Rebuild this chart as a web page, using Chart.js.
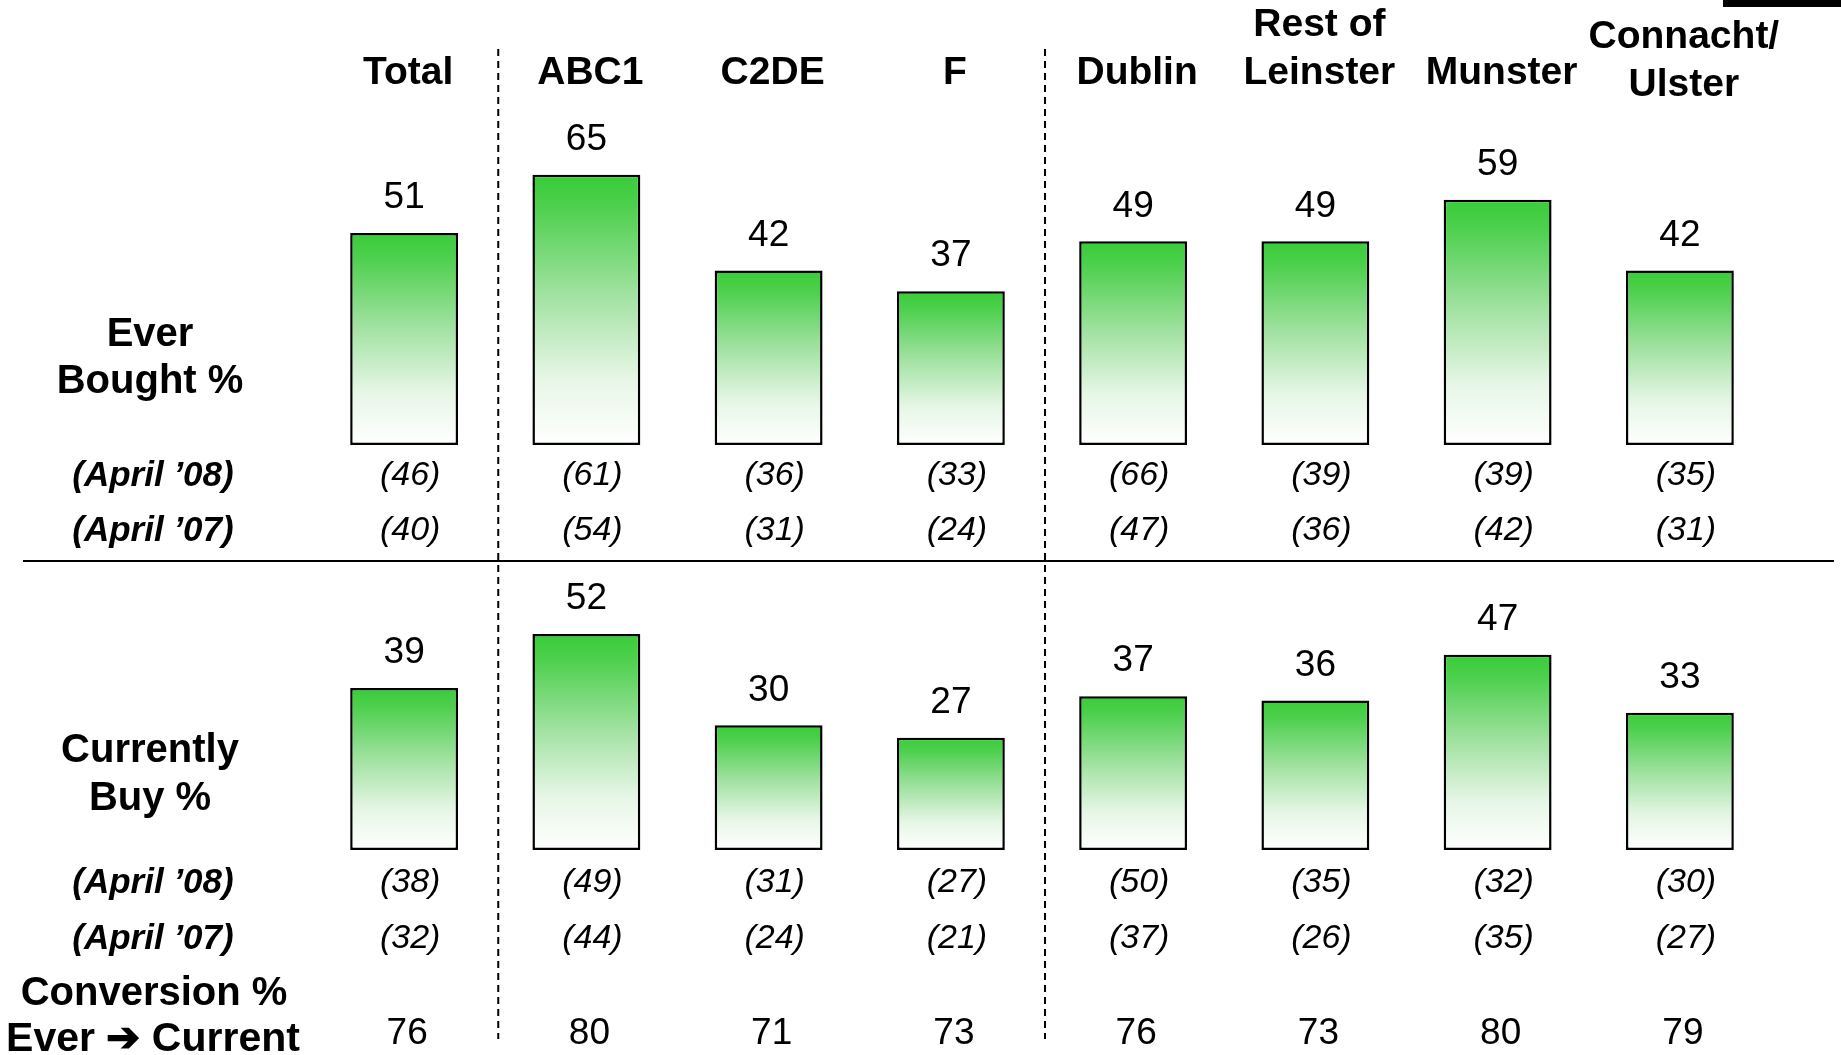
<!DOCTYPE html>
<html>
<head>
<meta charset="utf-8">
<script src="https://cdn.jsdelivr.net/npm/chart.js@4.4.1/dist/chart.umd.min.js"></script>
<style>
  html, body { margin: 0; padding: 0; background: #fff; }
  #wrap { position: relative; width: 1841px; height: 1055px; }
  canvas { position: absolute; left: 0; top: 0; }
</style>
</head>
<body>
<div id="wrap">
  <canvas id="topChart" width="1841" height="1055"></canvas>
  <canvas id="bottomChart" width="1841" height="1055"></canvas>
</div>
<script>
// ---- data ----
const categories = [['Total'], ['ABC1'], ['C2DE'], ['F'], ['Dublin'], ['Rest of', 'Leinster'], ['Munster'], ['Connacht/', 'Ulster']];
const everBought = [51, 65, 42, 37, 49, 49, 59, 42];
const everApr08 = [46, 61, 36, 33, 66, 39, 39, 35];
const everApr07 = [40, 54, 31, 24, 47, 36, 42, 31];
const currentlyBuy = [39, 52, 30, 27, 37, 36, 47, 33];
const buyApr08 = [38, 49, 31, 27, 50, 35, 32, 30];
const buyApr07 = [32, 44, 24, 21, 37, 26, 35, 27];
const conversion = [76, 80, 71, 73, 76, 73, 80, 79];

const FONT = '"Liberation Sans", Arial, Helvetica, sans-serif';

function greenFill(context) {
  const chart = context.chart;
  if (!chart.chartArea) return '#3ccd3c';
  const y = chart.scales.y;
  const top = y.getPixelForValue(context.raw);
  const bottom = y.getPixelForValue(0);
  const g = chart.ctx.createLinearGradient(0, top, 0, bottom);
  g.addColorStop(0, '#38cc38');
  g.addColorStop(0.12, '#4ed04e');
  g.addColorStop(0.45, '#a3e2a3');
  g.addColorStop(0.75, '#e6f6e6');
  g.addColorStop(1, '#ffffff');
  return g;
}

function text(ctx, str, x, y, font) {
  ctx.font = font;
  ctx.fillText(str, x, y);
}

function drawValues(chart) {
  const ctx = chart.ctx;
  const meta = chart.getDatasetMeta(0);
  ctx.save();
  ctx.fillStyle = '#000';
  ctx.textAlign = 'center';
  ctx.textBaseline = 'middle';
  meta.data.forEach(function(bar, i) {
    text(ctx, String(chart.data.datasets[0].data[i]), bar.x, bar.y - 35, '37px ' + FONT);
  });
  ctx.restore();
}

function drawRows(chart, rows) {
  const ctx = chart.ctx;
  const xs = chart.scales.x;
  ctx.save();
  ctx.fillStyle = '#000';
  ctx.textAlign = 'center';
  ctx.textBaseline = 'middle';
  rows.forEach(function(r) {
    text(ctx, r.label, 153, r.y, 'bold italic 35px ' + FONT);
    r.values.forEach(function(v, i) {
      text(ctx, '(' + v + ')', xs.getPixelForValue(i) + 6, r.y, 'italic 34px ' + FONT);
    });
  });
  ctx.restore();
}

const topDecor = {
  id: 'topDecor',
  afterDraw(chart) {
    const ctx = chart.ctx;
    const xs = chart.scales.x;
    ctx.save();
    // headers
    ctx.fillStyle = '#000';
    ctx.textAlign = 'center';
    ctx.textBaseline = 'middle';
    categories.forEach(function(lines, i) {
      const x = xs.getPixelForValue(i) + 4;
      let lastY = i === categories.length - 1 ? 85 : 73;
      for (let k = lines.length - 1; k >= 0; k--) {
        text(ctx, lines[k], x, lastY - (lines.length - 1 - k) * 48, 'bold 39px ' + FONT);
      }
    });
    text(ctx, 'Ever', 150, 335, 'bold 40px ' + FONT);
    text(ctx, 'Bought %', 150, 382, 'bold 40px ' + FONT);

    // dashed separators
    ctx.strokeStyle = '#000';
    ctx.lineWidth = 2;
    ctx.setLineDash([7, 5]);
    [0.5, 3.5].forEach(function(p) {
      const x = (xs.getPixelForValue(Math.floor(p)) + xs.getPixelForValue(Math.ceil(p))) / 2 + 3;
      ctx.beginPath();
      ctx.moveTo(x, 49);
      ctx.lineTo(x, 1039);
      ctx.stroke();
    });
    // horizontal divider
    ctx.setLineDash([]);
    ctx.lineWidth = 2;
    ctx.beginPath();
    ctx.moveTo(23, 561);
    ctx.lineTo(1834, 561);
    ctx.stroke();
    // clipped dark box top right
    ctx.fillStyle = '#000';
    ctx.fillRect(1723, 0, 118, 7);
    ctx.restore();

    drawValues(chart);
    drawRows(chart, [
      { label: '(April \u201908)', y: 476, values: everApr08 },
      { label: '(April \u201907)', y: 531, values: everApr07 }
    ]);
  }
};

const bottomDecor = {
  id: 'bottomDecor',
  afterDraw(chart) {
    const ctx = chart.ctx;
    const xs = chart.scales.x;
    ctx.save();
    ctx.fillStyle = '#000';
    ctx.textAlign = 'center';
    ctx.textBaseline = 'middle';
    text(ctx, 'Currently', 150, 751, 'bold 40px ' + FONT);
    text(ctx, 'Buy %', 150, 799, 'bold 40px ' + FONT);
    text(ctx, 'Conversion %', 154, 994, 'bold 40px ' + FONT);
    text(ctx, 'Ever \u2794 Current', 153, 1040, 'bold 41px ' + FONT);
    conversion.forEach(function(v, i) {
      text(ctx, String(v), xs.getPixelForValue(i) + 3, 1034, '37px ' + FONT);
    });
    ctx.restore();

    drawValues(chart);
    drawRows(chart, [
      { label: '(April \u201908)', y: 883, values: buyApr08 },
      { label: '(April \u201907)', y: 939, values: buyApr07 }
    ]);
  }
};

function makeChart(id, values, padTop, padBottom, plugin) {
  return new Chart(document.getElementById(id).getContext('2d'), {
    type: 'bar',
    data: {
      labels: categories.map(function(c) { return c.join(' '); }),
      datasets: [{
        data: values,
        backgroundColor: greenFill,
        borderColor: '#000',
        borderWidth: 2.5,
        borderSkipped: false,
        categoryPercentage: 1,
        barPercentage: 0.592
      }]
    },
    options: {
      responsive: false,
      animation: false,
      layout: { padding: { left: 313, right: 70, top: padTop, bottom: padBottom } },
      plugins: { legend: { display: false }, tooltip: { enabled: false } },
      scales: {
        x: { display: false },
        y: { display: false, min: 0, max: 100 }
      }
    },
    plugins: [plugin]
  });
}

makeChart('topChart', everBought, 29.4, 610, topDecor);
makeChart('bottomChart', currentlyBuy, 434.4, 205, bottomDecor);
</script>
</body>
</html>
